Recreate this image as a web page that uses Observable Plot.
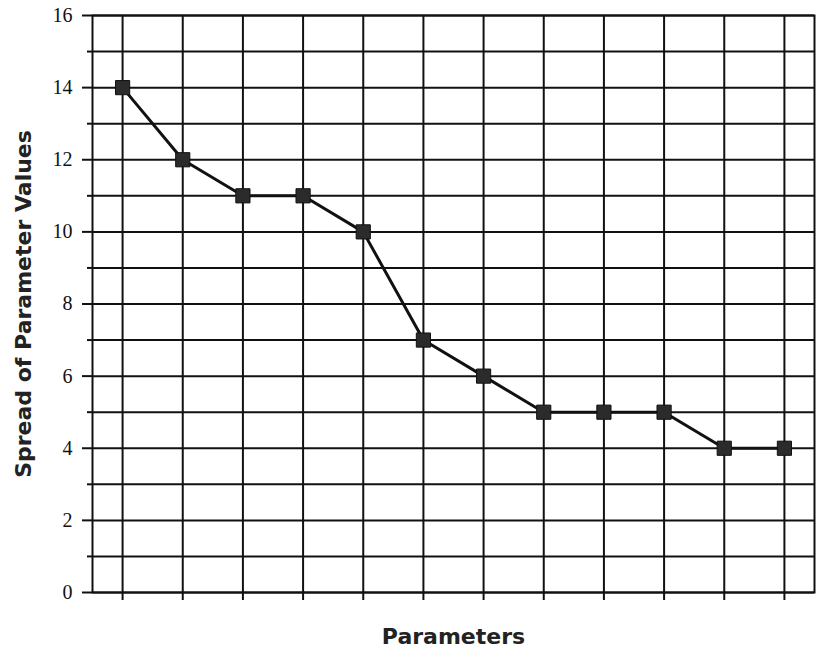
<!DOCTYPE html>
<html>
<head>
<meta charset="utf-8">
<script src="https://cdn.jsdelivr.net/npm/d3@7"></script>
<script src="https://cdn.jsdelivr.net/npm/@observablehq/plot@0.6"></script>
<style>
  html, body { margin: 0; padding: 0; background: #fff; }
  #chart svg { display: block; }
</style>
</head>
<body>
<div id="chart"></div>
<script>
const parameters = [1, 2, 3, 4, 5, 6, 7, 8, 9, 10, 11, 12];
const spread = [14, 12, 11, 11, 10, 7, 6, 5, 5, 5, 4, 4];
const majorTicks = [0, 2, 4, 6, 8, 10, 12, 14, 16];
const minorTicks = [1, 3, 5, 7, 9, 11, 13, 15];
const yTitle = "Spread of Parameter Values";
const xTitle = "Parameters";

const data = parameters.map((p, i) => ({p, v: spread[i]}));
const allY = majorTicks.concat(minorTicks);

const chart = Plot.plot({
  width: 817,
  height: 649,
  marginLeft: 92,
  marginRight: 3,
  marginTop: 15,
  marginBottom: 57,
  style: {background: "#fff", color: "#111"},
  x: {domain: [0.5, 12.5], label: null},
  y: {domain: [0, 16], label: null},
  marks: [
    Plot.gridY(allY, {stroke: "#111", strokeOpacity: 1, strokeWidth: 2}),
    Plot.gridX(parameters, {stroke: "#111", strokeOpacity: 1, strokeWidth: 2}),
    Plot.frame({stroke: "#111", strokeWidth: 2}),
    Plot.axisY(majorTicks, {tickSize: 10, strokeWidth: 2, tickFormat: () => "", label: null}),
    Plot.axisY(minorTicks, {tickSize: 5, strokeWidth: 2, tickFormat: () => "", label: null}),
    Plot.axisX(parameters, {tickSize: 8, strokeWidth: 2, tickFormat: () => "", label: null}),
    Plot.text(majorTicks, {
      y: d => d, text: d => String(d), frameAnchor: "left", dx: -20,
      textAnchor: "end", lineAnchor: "middle",
      fontFamily: "'Liberation Serif', 'Times New Roman', serif",
      fontSize: 20, fill: "#111"
    }),
    Plot.line(data, {x: "p", y: "v", stroke: "#111", strokeWidth: 3}),
    Plot.dot(data, {x: "p", y: "v", symbol: "square", r: 8, fill: "#2b2b2b", stroke: "#111", strokeWidth: 1}),
    Plot.text([yTitle], {
      text: d => d, frameAnchor: "left", dx: -69, rotate: -90,
      textAnchor: "middle", lineAnchor: "middle",
      fontFamily: "'DejaVu Sans', sans-serif", fontWeight: 900, fontSize: 22, fill: "#222"
    }),
    Plot.text([xTitle], {
      text: d => d, frameAnchor: "bottom", dy: 44,
      textAnchor: "middle", lineAnchor: "middle",
      fontFamily: "'DejaVu Sans', sans-serif", fontWeight: 900, fontSize: 22, fill: "#222"
    })
  ]
});
document.getElementById("chart").appendChild(chart);
</script>
</body>
</html>
